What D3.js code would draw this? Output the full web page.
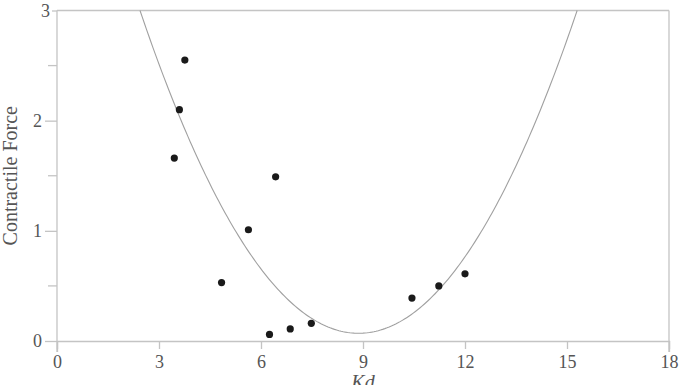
<!DOCTYPE html>
<html lang="en">
<head>
    <meta charset="UTF-8">
    <title>Contractile Force vs Kd</title>
    <style>
        body,html{
            margin:0;
            padding:0;
            border:0;
            background:#fff;
        }
        text{ font-family:"Liberation Serif","DejaVu Serif",serif; fill:#555; }
    </style>
</head>
<body>
    <svg id="svg" width="683" height="385"></svg>
    <script type="text/javascript" src="https://cdnjs.cloudflare.com/ajax/libs/d3/7.8.5/d3.min.js"></script>
    <script type="text/javascript">
        // measured points
        var kd    = [3.76, 3.60, 3.45, 4.84, 5.63, 6.43, 6.25, 6.86, 7.48, 10.44, 11.23, 12.0];
        var force = [2.55, 2.10, 1.66, 0.53, 1.01, 1.49, 0.06, 0.11, 0.16, 0.39, 0.50, 0.61];

        // fitted parabola: a*(x-h)^2 + k
        var fitCoef = [0.0709, 8.87, 0.07];

        var xTicks = [0, 3, 6, 9, 12, 15, 18];
        var yTicks = [0, 1, 2, 3];
        var yMinor = [0.5, 1.5, 2.5];

        var L = 57, R = 669, T = 10.5, B = 341;
        var axisCol = "#c4c4c4";
        var serif = "Liberation Serif, DejaVu Serif, serif";

        var svg = d3.select("#svg");
        var x = d3.scaleLinear().domain([0, 18]).range([L, R]);
        var y = d3.scaleLinear().domain([0, 3]).range([B, T]);

        //frame
        svg.append("line").attr("x1", L).attr("x2", R).attr("y1", T).attr("y2", T)
            .attr("stroke", axisCol).attr("stroke-width", 1.3);
        svg.append("line").attr("x1", R).attr("x2", R).attr("y1", T).attr("y2", B + 11)
            .attr("stroke", axisCol).attr("stroke-width", 1.3);

        //x axis
        var gx = svg.append("g").attr("transform", "translate(0," + B + ")")
            .call(d3.axisBottom(x).tickValues(xTicks).tickFormat(d3.format("d")).tickSize(8).tickPadding(6));
        gx.attr("font-family", serif).attr("font-size", 18);
        gx.select(".domain").attr("stroke", axisCol).attr("stroke-width", 1.3);
        gx.selectAll(".tick line").attr("stroke", axisCol).attr("stroke-width", 1.3);
        gx.selectAll(".tick line").filter(function(d){ return d === 0 || d === 18; }).attr("y2", 11);
        gx.selectAll("text").attr("fill", "#5a5a5a");

        //y axis
        var gy = svg.append("g").attr("transform", "translate(" + L + ",0)")
            .call(d3.axisLeft(y).tickValues(yTicks).tickFormat(d3.format("d")).tickSize(12).tickPadding(3));
        gy.attr("font-family", serif).attr("font-size", 18);
        gy.select(".domain").remove();
        gy.append("line").attr("x1", 0).attr("x2", 0).attr("y1", T).attr("y2", B + 11)
            .attr("stroke", axisCol).attr("stroke-width", 1.3);
        gy.selectAll(".tick line").attr("stroke", axisCol).attr("stroke-width", 1.3);
        gy.selectAll(".tick line").filter(function(d){ return d === 3; }).attr("x2", -5);
        gy.selectAll(".tick text").filter(function(d){ return d === 3; }).attr("x", -7);
        gy.selectAll("text").attr("fill", "#5a5a5a");
        gy.selectAll(".minor").data(yMinor).enter().append("line")
            .attr("x1", -9).attr("x2", 0)
            .attr("y1", function(d){ return y(d); }).attr("y2", function(d){ return y(d); })
            .attr("stroke", axisCol).attr("stroke-width", 1.3);

        //fit curve
        var a = fitCoef[0], h = fitCoef[1], k = fitCoef[2];
        var x0 = h - Math.sqrt((3 - k) / a), x1 = h + Math.sqrt((3 - k) / a);
        var curve = d3.range(0, 201).map(function(i){
            var xv = x0 + (x1 - x0) * i / 200;
            return [xv, a * (xv - h) * (xv - h) + k];
        });
        svg.append("path").datum(curve)
            .attr("d", d3.line().x(function(d){ return x(d[0]); }).y(function(d){ return y(d[1]); }))
            .attr("fill", "none").attr("stroke", "#a0a0a0").attr("stroke-width", 1.1);

        //points
        svg.selectAll("circle.pt").data(kd).enter().append("circle")
            .attr("class", "pt")
            .attr("cx", function(d){ return x(d); })
            .attr("cy", function(d, i){ return y(force[i]); })
            .attr("r", 3.6)
            .attr("fill", "#1a1a1a");

        //titles
        svg.append("text").attr("transform", "translate(17," + ((T + B) / 2) + ") rotate(-90)")
            .attr("text-anchor", "middle").attr("font-size", 20).text("Contractile Force");
        svg.append("text").attr("x", x(9)).attr("y", 389)
            .attr("text-anchor", "middle").attr("font-size", 20).attr("font-style", "italic").text("Kd");
    </script>
</body>
</html>
